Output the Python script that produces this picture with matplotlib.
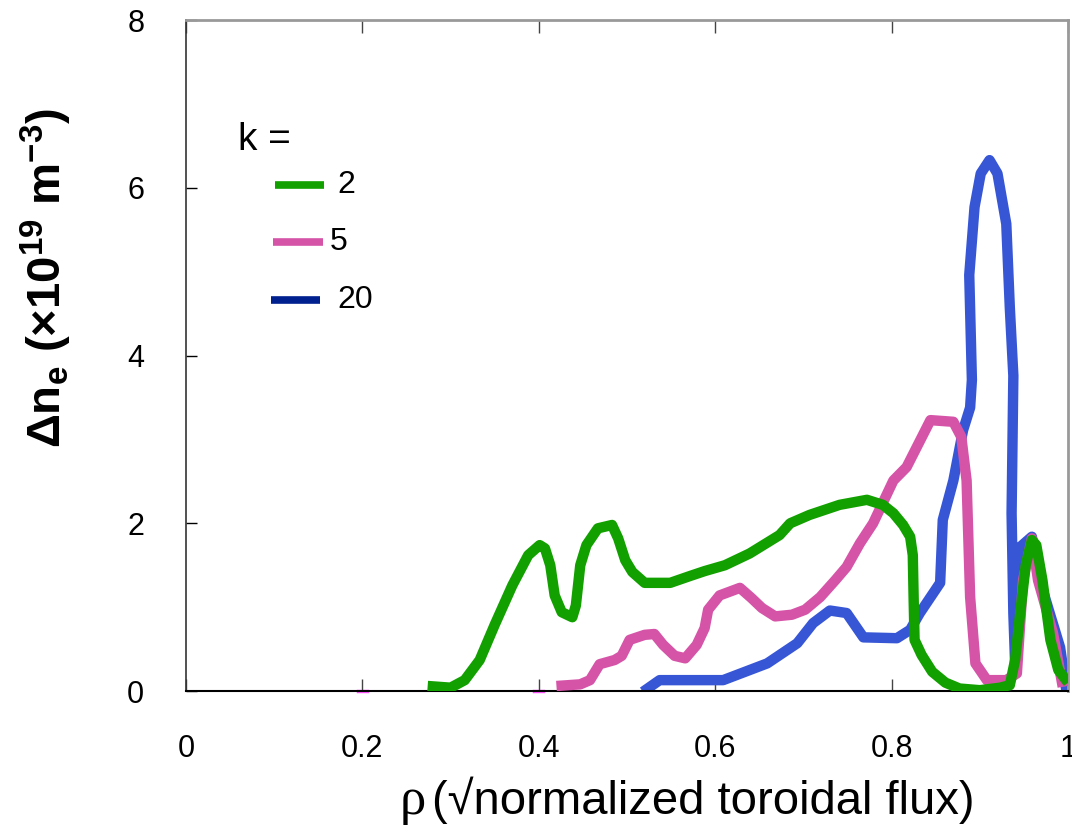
import matplotlib
matplotlib.use("Agg")
import matplotlib.pyplot as plt

# ---------------- data ----------------
green_x = [0.274, 0.300, 0.316, 0.333, 0.350, 0.370, 0.379, 0.388, 0.401, 0.407, 0.413, 0.418,
           0.426, 0.438, 0.442, 0.447, 0.454, 0.467, 0.483, 0.490, 0.498, 0.506, 0.520, 0.549,
           0.571, 0.588, 0.611, 0.639, 0.656, 0.673, 0.685, 0.707, 0.741, 0.772, 0.790, 0.802,
           0.813, 0.821, 0.824, 0.825, 0.826, 0.834, 0.846, 0.861, 0.877, 0.900, 0.923, 0.934,
           0.940, 0.946, 0.952, 0.959, 0.964, 0.971, 0.980, 0.989, 1.000]
green_y = [0.06, 0.04, 0.13, 0.37, 0.79, 1.26, 1.44, 1.62, 1.74, 1.70, 1.50, 1.14,
           0.94, 0.88, 1.02, 1.50, 1.74, 1.94, 1.98, 1.82, 1.56, 1.42, 1.29, 1.29,
           1.37, 1.43, 1.50, 1.64, 1.75, 1.86, 2.00, 2.10, 2.22, 2.28, 2.22, 2.12,
           1.98, 1.84, 1.62, 1.08, 0.61, 0.43, 0.23, 0.10, 0.03, 0.01, 0.04, 0.07,
           0.37, 0.95, 1.50, 1.80, 1.74, 1.32, 0.61, 0.25, 0.10]

pink_x = [0.420, 0.447, 0.458, 0.469, 0.486, 0.494, 0.503, 0.520, 0.531, 0.541, 0.554, 0.566,
          0.579, 0.588, 0.592, 0.605, 0.628, 0.641, 0.653, 0.668, 0.687, 0.702, 0.719, 0.736,
          0.749, 0.764, 0.779, 0.802, 0.817, 0.844, 0.870, 0.879, 0.885, 0.889, 0.895, 0.908,
          0.930, 0.942, 0.949, 0.959, 0.966, 0.983, 0.994]
pink_y = [0.06, 0.08, 0.13, 0.32, 0.37, 0.42, 0.61, 0.67, 0.68, 0.55, 0.42, 0.39,
          0.55, 0.75, 0.97, 1.14, 1.23, 1.11, 0.99, 0.89, 0.91, 0.97, 1.12, 1.32,
          1.48, 1.76, 2.00, 2.51, 2.67, 3.23, 3.21, 3.03, 2.51, 1.12, 0.33, 0.13,
          0.13, 0.21, 1.32, 1.82, 1.32, 0.69, 0.05]

blue_x = [0.518, 0.537, 0.560, 0.609, 0.659, 0.693, 0.711, 0.730, 0.749, 0.768, 0.806, 0.821,
          0.832, 0.855, 0.858, 0.870, 0.881, 0.889, 0.891, 0.888, 0.894, 0.901, 0.911, 0.920,
          0.930, 0.934, 0.938, 0.936, 0.938, 0.940, 0.946, 0.959, 0.968, 0.991, 0.998]
blue_y = [-0.01, 0.13, 0.13, 0.13, 0.33, 0.57, 0.81, 0.96, 0.93, 0.64, 0.63, 0.73,
          0.93, 1.29, 2.04, 2.51, 3.11, 3.38, 3.71, 4.96, 5.77, 6.17, 6.33, 6.17,
          5.57, 4.57, 3.76, 2.12, 0.93, 0.33, 1.72, 1.84, 1.32, 0.52, 0.01]

# little magenta stubs sitting on the zero line
stub_x = [[0.195, 0.205], [0.395, 0.405]]
stub_y = [[0.0, 0.0], [0.0, 0.0]]

k_values = ["2", "5", "20"]
xticks = [0, 0.2, 0.4, 0.6, 0.8, 1]
xtick_labels = ["0", "0.2", "0.4", "0.6", "0.8", "1"]
yticks = [0, 2, 4, 6, 8]

# ---------------- fonts ----------------
plt.rcParams['font.family'] = ['Liberation Sans', 'DejaVu Sans']
plt.rcParams['mathtext.fontset'] = 'custom'
plt.rcParams['mathtext.rm'] = 'Liberation Sans'
plt.rcParams['mathtext.bf'] = 'Liberation Sans:bold'
plt.rcParams['mathtext.it'] = 'Liberation Sans:italic'
plt.rcParams['axes.unicode_minus'] = False

green = "#12a000"
pink = "#d554a8"
blue = "#3656d6"

fig = plt.figure(figsize=(10.72, 8.36), dpi=100)
ax = fig.add_axes([0.1735, 0.1734, 0.8228, 0.8026])

ax.plot(blue_x, blue_y, color=blue, lw=7.5, solid_joinstyle="round", solid_capstyle="butt", zorder=2)
ax.plot(pink_x, pink_y, color=pink, lw=7.5, solid_joinstyle="round", solid_capstyle="butt", zorder=3)
ax.plot(green_x, green_y, color=green, lw=7.5, solid_joinstyle="round", solid_capstyle="butt", zorder=4)
for sx, sy in zip(stub_x, stub_y):
    ax.plot(sx, sy, color="#ff55ff", lw=2.5, zorder=1, clip_on=False)

ax.set_xlim(0, 1)
ax.set_ylim(0, 8)

ax.set_xticks(xticks)
ax.set_xticklabels(xtick_labels, fontsize=22)
ax.set_yticks(yticks)
ax.tick_params(axis="y", labelsize=22, direction="in", length=8, width=1, pad=30)
ax.tick_params(axis="x", direction="in", length=9, width=1, color="#444444", pad=31,
               top=True)

for s in ["top", "right"]:
    ax.spines[s].set_color("#999999")
    ax.spines[s].set_linewidth(2)
ax.spines["bottom"].set_linewidth(1.5)
ax.spines["left"].set_linewidth(1.2)
ax.spines["left"].set_color("#333333")

# x label: serif rho + sans rest
fig.text(0.397, 0.026, "\u03c1", fontsize=38, family="Liberation Serif", ha="right",
         va="baseline")
fig.text(0.403, 0.026, "(\u221anormalized toroidal flux)", fontsize=34,
         ha="left", va="baseline")

fig.text(0.043, 0.668, r"$\mathbf{\Delta n_e}$ (×10$^{\mathbf{19}}$ m$^{\mathbf{-3}}$)",
         rotation=90, fontsize=34, fontweight="bold", ha="center", va="center")

# hand made legend
ax.text(0.059, 0.821, "k =", transform=ax.transAxes, fontsize=28, va="center")
leg_cols = [green, pink, "#00208f"]
leg_y = [0.754, 0.669, 0.583]
leg_x0 = [0.101, 0.099, 0.096]
leg_tx = [0.172, 0.163, 0.172]
for c, yy, x0, tx, lab in zip(leg_cols, leg_y, leg_x0, leg_tx, k_values):
    ax.plot([x0, x0 + 0.056], [yy, yy], color=c, lw=5.5, transform=ax.transAxes,
            solid_capstyle="butt")
    ax.text(tx, yy, lab, transform=ax.transAxes, fontsize=23, va="center")

fig.savefig("out.png", dpi=100)
